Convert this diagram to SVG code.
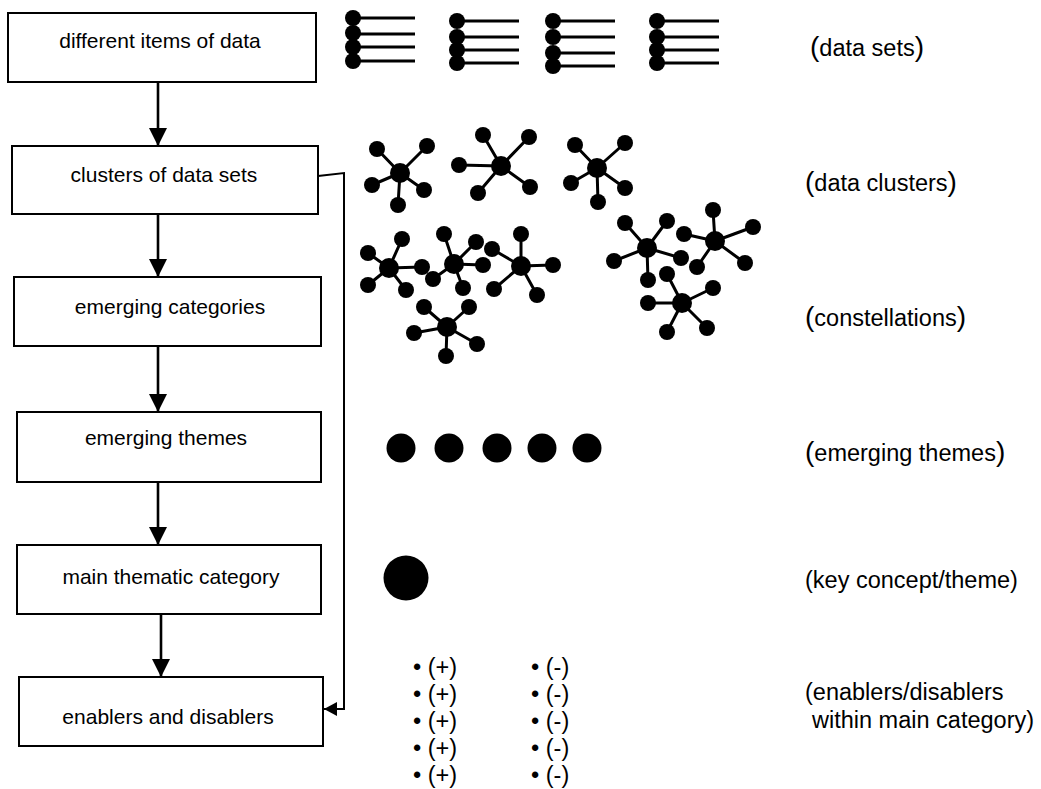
<svg xmlns="http://www.w3.org/2000/svg" width="1041" height="789" viewBox="0 0 1041 789">
<style>
.box{fill:#fff;stroke:#000;stroke-width:2}
.bt{font-family:"Liberation Sans",Arial,sans-serif;font-size:21px;fill:#000;text-anchor:middle}
.lb{font-family:"Liberation Sans",Arial,sans-serif;font-size:23.5px;fill:#000}
.bp{font-size:28px}
.cn{stroke:#000;stroke-width:2.6;fill:none}
.cn2{stroke:#000;stroke-width:2;fill:none}
.ln{stroke:#000;stroke-width:3}
.d{fill:#000}
.d circle{r:8px}
.d circle.h{r:10px}
</style>
<defs>
<marker id="ah" markerUnits="userSpaceOnUse" markerWidth="18" markerHeight="18" viewBox="0 0 16 16" refX="16" refY="8" orient="auto">
<path d="M0,0 L16,8 L0,16 Z" fill="#000"/>
</marker>
<marker id="ah2" markerUnits="userSpaceOnUse" markerWidth="13" markerHeight="14" viewBox="0 0 13 14" refX="13" refY="7" orient="auto">
<path d="M0,0 L13,7 L0,14 Z" fill="#000"/>
</marker>
</defs>
<rect width="1041" height="789" fill="#fff"/>

<g id="connectors">
<line class="cn" x1="158" y1="82" x2="158" y2="146" marker-end="url(#ah)"/>
<line class="cn" x1="158" y1="214" x2="158" y2="277" marker-end="url(#ah)"/>
<line class="cn" x1="158" y1="346" x2="158" y2="412" marker-end="url(#ah)"/>
<line class="cn" x1="158" y1="482" x2="158" y2="545" marker-end="url(#ah)"/>
<line class="cn" x1="161" y1="614" x2="161" y2="677" marker-end="url(#ah)"/>
<polyline class="cn2" points="318,176 344,173 344,709 324,709" marker-end="url(#ah2)"/>
</g>

<g id="n1"><rect class="box" x="8" y="13" width="308" height="69"/><text class="bt" x="160" y="48">different items of data</text></g>
<g id="n2"><rect class="box" x="12" y="146" width="306" height="68"/><text class="bt" x="164" y="182">clusters of data sets</text></g>
<g id="n3"><rect class="box" x="14" y="277" width="307" height="69"/><text class="bt" x="170" y="314">emerging categories</text></g>
<g id="n4"><rect class="box" x="17" y="412" width="304" height="70"/><text class="bt" x="166" y="445">emerging themes</text></g>
<g id="n5"><rect class="box" x="17" y="545" width="304" height="69"/><text class="bt" x="171" y="584">main thematic category</text></g>
<g id="n6"><rect class="box" x="19" y="677" width="304" height="69"/><text class="bt" x="168" y="724">enablers and disablers</text></g>

<g id="datasets">
<g class="ln">
<line x1="353" y1="18" x2="415" y2="18"/><line x1="353" y1="34" x2="415" y2="34"/><line x1="353" y1="47" x2="415" y2="47"/><line x1="353" y1="61" x2="415" y2="61"/>
<line x1="457" y1="21" x2="519" y2="21"/><line x1="457" y1="37" x2="519" y2="37"/><line x1="457" y1="50" x2="519" y2="50"/><line x1="457" y1="63" x2="519" y2="63"/>
<line x1="553" y1="21" x2="615" y2="21"/><line x1="553" y1="37" x2="615" y2="37"/><line x1="553" y1="53" x2="615" y2="53"/><line x1="553" y1="66" x2="615" y2="66"/>
<line x1="657" y1="21" x2="719" y2="21"/><line x1="657" y1="37" x2="719" y2="37"/><line x1="657" y1="50" x2="719" y2="50"/><line x1="657" y1="63" x2="719" y2="63"/>
</g>
<g class="d">
<circle cx="353" cy="18" r="8"/><circle cx="353" cy="33" r="8"/><circle cx="353" cy="47" r="8"/><circle cx="353" cy="61" r="8"/>
<circle cx="457" cy="21" r="8"/><circle cx="457" cy="37" r="8"/><circle cx="457" cy="50" r="8"/><circle cx="457" cy="63" r="8"/>
<circle cx="553" cy="21" r="8"/><circle cx="553" cy="37" r="8"/><circle cx="553" cy="53" r="8"/><circle cx="553" cy="66" r="8"/>
<circle cx="657" cy="21" r="8"/><circle cx="657" cy="37" r="8"/><circle cx="657" cy="50" r="8"/><circle cx="657" cy="63" r="8"/>
</g>
</g>

<g id="clusters">
<g class="ln">
<path d="M400,173 L377,149 M400,173 L427,146 M400,173 L372,185 M400,173 L424,190 M400,173 L398,205"/>
<path d="M501,166 L483,135 M501,166 L529,137 M501,166 L459,165 M501,166 L478,193 M501,166 L530,187"/>
<path d="M597,168 L575,145 M597,168 L625,143 M597,168 L571,183 M597,168 L625,188 M597,168 L598,202"/>
</g>
<g class="d">
<circle class="h" cx="400" cy="173" r="10"/><circle cx="377" cy="149" r="8"/><circle cx="427" cy="146" r="8"/><circle cx="372" cy="185" r="8"/><circle cx="424" cy="190" r="8"/><circle cx="398" cy="205" r="8"/>
<circle class="h" cx="501" cy="166" r="10"/><circle cx="483" cy="135" r="8"/><circle cx="529" cy="137" r="8"/><circle cx="459" cy="165" r="8"/><circle cx="478" cy="193" r="8"/><circle cx="530" cy="187" r="8"/>
<circle class="h" cx="597" cy="168" r="10"/><circle cx="575" cy="145" r="8"/><circle cx="625" cy="143" r="8"/><circle cx="571" cy="183" r="8"/><circle cx="625" cy="188" r="8"/><circle cx="598" cy="202" r="8"/>
</g>
</g>

<g id="constellations">
<g class="ln">
<path d="M389,268 L402,239 M389,268 L368,253 M389,268 L422,267 M389,268 L368,285 M389,268 L406,290"/>
<path d="M454,264 L444,234 M454,264 L476,242 M454,264 L483,265 M454,264 L433,279 M454,264 L463,288"/>
<path d="M521,266 L521,234 M521,266 L492,249 M521,266 L553,265 M521,266 L494,289 M521,266 L537,295"/>
<path d="M447,327 L424,307 M447,327 L469,307 M447,327 L414,333 M447,327 L477,344 M447,327 L446,356"/>
<path d="M647,248 L625,223 M647,248 L667,221 M647,248 L614,261 M647,248 L681,258 M647,248 L648,280"/>
<path d="M715,241 L713,210 M715,241 L753,227 M715,241 L684,234 M715,241 L697,267 M715,241 L745,263"/>
<path d="M682,303 L667,274 M682,303 L713,288 M682,303 L648,303 M682,303 L707,328 M682,303 L667,332"/>
</g>
<g class="d">
<circle class="h" cx="389" cy="268" r="10"/><circle cx="402" cy="239" r="8"/><circle cx="368" cy="253" r="8"/><circle cx="422" cy="267" r="8"/><circle cx="368" cy="285" r="8"/><circle cx="406" cy="290" r="8"/>
<circle class="h" cx="454" cy="264" r="10"/><circle cx="444" cy="234" r="8"/><circle cx="476" cy="242" r="8"/><circle cx="483" cy="265" r="8"/><circle cx="433" cy="279" r="8"/><circle cx="463" cy="288" r="8"/>
<circle class="h" cx="521" cy="266" r="10"/><circle cx="521" cy="234" r="8"/><circle cx="492" cy="249" r="8"/><circle cx="553" cy="265" r="8"/><circle cx="494" cy="289" r="8"/><circle cx="537" cy="295" r="8"/>
<circle class="h" cx="447" cy="327" r="10"/><circle cx="424" cy="307" r="8"/><circle cx="469" cy="307" r="8"/><circle cx="414" cy="333" r="8"/><circle cx="477" cy="344" r="8"/><circle cx="446" cy="356" r="8"/>
<circle class="h" cx="647" cy="248" r="10"/><circle cx="625" cy="223" r="8"/><circle cx="667" cy="221" r="8"/><circle cx="614" cy="261" r="8"/><circle cx="681" cy="258" r="8"/><circle cx="648" cy="280" r="8"/>
<circle class="h" cx="715" cy="241" r="10"/><circle cx="713" cy="210" r="8"/><circle cx="753" cy="227" r="8"/><circle cx="684" cy="234" r="8"/><circle cx="697" cy="267" r="8"/><circle cx="745" cy="263" r="8"/>
<circle class="h" cx="682" cy="303" r="10"/><circle cx="667" cy="274" r="8"/><circle cx="713" cy="288" r="8"/><circle cx="648" cy="303" r="8"/><circle cx="707" cy="328" r="8"/><circle cx="667" cy="332" r="8"/>
</g>
</g>

<g id="themes" fill="#000">
<circle cx="401" cy="448" r="14.5"/><circle cx="449" cy="448" r="14.5"/><circle cx="497" cy="448" r="14.5"/><circle cx="542" cy="448" r="14.5"/><circle cx="587" cy="448" r="14.5"/>
</g>
<g id="keyconcept" fill="#000"><circle cx="406" cy="578" r="22.5"/></g>

<g id="bullets" class="lb">
<text x="413" y="675">• (+)</text><text x="413" y="702">• (+)</text><text x="413" y="729">• (+)</text><text x="413" y="756">• (+)</text><text x="413" y="783">• (+)</text>
<text x="531" y="675">• (-)</text><text x="531" y="702">• (-)</text><text x="531" y="729">• (-)</text><text x="531" y="756">• (-)</text><text x="531" y="783">• (-)</text>
</g>

<g id="labels" class="lb">
<text x="810" y="56"><tspan class="bp">(</tspan>data sets<tspan class="bp">)</tspan></text>
<text x="805" y="191"><tspan class="bp">(</tspan>data clusters<tspan class="bp">)</tspan></text>
<text x="805" y="326"><tspan class="bp">(</tspan>constellations<tspan class="bp">)</tspan></text>
<text x="805" y="461"><tspan class="bp">(</tspan>emerging themes<tspan class="bp">)</tspan></text>
<text x="805" y="588">(key concept/theme)</text>
<text x="805" y="700">(enablers/disablers</text>
<text x="812" y="728">within main category)</text>
</g>
</svg>
